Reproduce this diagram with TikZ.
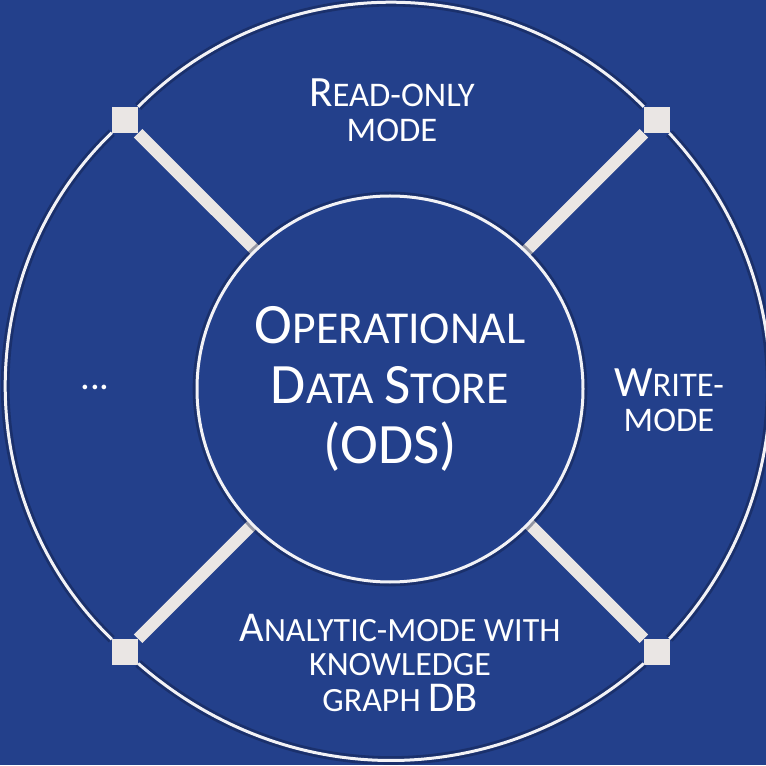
\documentclass[tikz,border=0pt]{standalone}
\usepackage{fontspec}
\setmainfont{Carlito}
\usepackage{graphicx}
\usetikzlibrary{positioning}
\definecolor{odsblue}{RGB}{35,64,139}
\definecolor{ringwhite}{RGB}{242,242,246}
\definecolor{spokegray}{RGB}{234,230,228}
\definecolor{odsshade}{RGB}{14,26,62}
\newcommand{\initial}[1]{\scalebox{1.25}{#1}}
\tikzset{
  ring/.style={ringwhite, line width=0.9mm,
               preaction={draw=odsshade, draw opacity=0.4, line width=2.6mm}},
  spoke/.style={spokegray, line width=3.6mm},
  corner/.style={fill=spokegray, minimum size=7.8mm, inner sep=0pt},
  hub/.style={circle, draw=ringwhite, line width=0.9mm, fill=odsblue,
              preaction={draw=odsshade, draw opacity=0.4, line width=2.6mm},
              minimum size=115.8mm, align=center, text=white,
              font=\fontsize{39}{51}\selectfont},
  mode/.style={align=center, text=white, font=\fontsize{29.5}{29.5}\selectfont},
}

\begin{document}
\begin{tikzpicture}[x=0.3mm,y=0.3mm]
  \path[use as bounding box, fill=odsblue] (0,0) rectangle (766,765);
  \coordinate (c) at (391,379);
  % corner joints of the ring
  \node[corner] (nw) at (125,645) {};
  \node[corner] (ne) at (657,645) {};
  \node[corner] (se) at (657,113) {};
  \node[corner] (sw) at (125,113) {};
  \draw[ring] (nw) to[bend left=45] (ne);
  \draw[ring] (ne) to[bend left=43] (se);
  \draw[ring] (se) to[bend left=41] (sw);
  \draw[ring] (sw) to[bend left=46] (nw);
  \foreach \k in {nw,ne,se,sw}{
    \draw[spoke] (\k) -- (c);}
  \node[hub] (ods) at (390,376)
    {\initial{O}PERATIONAL\\\initial{D}ATA \initial{S}TORE\\\initial{(ODS)}};
  \node[mode] (read) at (392,655) {\initial{R}EAD-ONLY\\MODE};
  \node[mode] (write) at (669,365) {\initial{W}RITE-\\MODE};
  \node[mode, font=\fontsize{29}{29}\selectfont] (analytic) at (400,102)
    {\initial{A}NALYTIC-MODE WITH\\KNOWLEDGE\\[2pt]GRAPH \initial{DB}};
  \node[mode, anchor=base, font=\fontsize{33}{33}\selectfont] (more) at (95,375) {...};
\end{tikzpicture}
\end{document}
